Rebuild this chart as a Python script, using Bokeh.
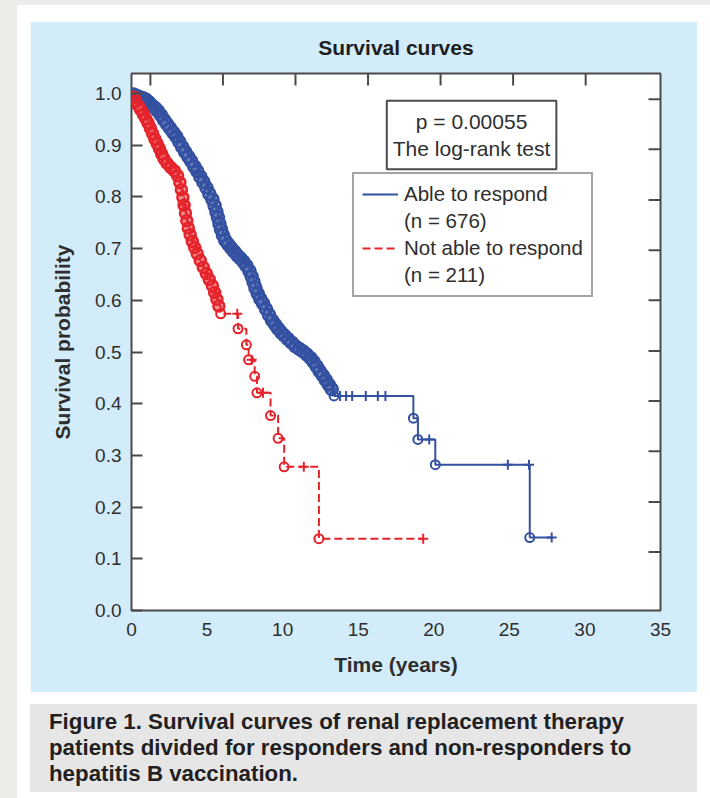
import numpy as np
from bokeh.plotting import figure
from bokeh.models import Range1d, FixedTicker, Legend, LegendItem, Label, Div
from bokeh.layouts import column
from bokeh.embed import file_html
from bokeh.resources import INLINE

# ---- Kaplan-Meier estimates (time in years, survival probability) ----
# responders ("Able to respond", n = 676): event times and survival after each event
resp_time = [0.00, 0.15, 0.35, 0.55, 0.75, 0.95, 1.15, 1.35, 1.55, 1.75, 1.95, 2.15,
             2.35, 2.55, 2.75, 2.95, 3.15, 3.35, 3.55, 3.75, 3.95, 4.15, 4.35, 4.55,
             4.75, 4.95, 5.15, 5.35, 5.50, 5.62, 5.72, 5.82, 5.92, 6.05, 6.20, 6.40,
             6.60, 6.80, 7.00, 7.20, 7.40, 7.60, 7.80, 7.95, 8.08, 8.20, 8.35, 8.52,
             8.70, 8.90, 9.10, 9.30, 9.50, 9.70, 9.90, 10.10, 10.35, 10.60, 10.85,
             11.10, 11.35, 11.60, 11.85, 12.05, 12.25, 12.45, 12.65, 12.85, 13.05,
             13.25, 13.40, 18.65, 18.95, 20.10, 26.35]
resp_surv = [1.000, 0.998, 0.995, 0.993, 0.991, 0.988, 0.983, 0.977, 0.972, 0.966,
             0.958, 0.949, 0.941, 0.933, 0.925, 0.917, 0.907, 0.897, 0.887, 0.878,
             0.869, 0.859, 0.850, 0.839, 0.829, 0.818, 0.806, 0.795, 0.783, 0.771,
             0.760, 0.748, 0.737, 0.726, 0.716, 0.708, 0.701, 0.694, 0.687, 0.681,
             0.675, 0.667, 0.657, 0.646, 0.635, 0.624, 0.613, 0.603, 0.594, 0.583,
             0.572, 0.561, 0.553, 0.545, 0.538, 0.532, 0.525, 0.518, 0.511, 0.506,
             0.501, 0.495, 0.488, 0.481, 0.472, 0.463, 0.455, 0.446, 0.437, 0.428,
             0.415, 0.372, 0.331, 0.282, 0.141]
# censored observations of responders
resp_censor = [1.0, 2.0, 3.0, 4.4, 5.1, 6.6, 7.5, 8.4, 9.6, 10.5, 11.2, 11.9, 12.4,
               12.9, 13.3, 13.8, 14.2, 14.6, 15.5, 16.3, 16.8, 19.7, 24.9, 26.3, 27.8]

# non-responders ("Not able to respond", n = 211)
nonresp_time = [0.00, 0.15, 0.30, 0.45, 0.60, 0.78, 0.95, 1.10, 1.25, 1.40, 1.55,
                1.70, 1.85, 2.00, 2.15, 2.35, 2.60, 2.85, 3.05, 3.20, 3.30, 3.40,
                3.48, 3.57, 3.66, 3.76, 3.88, 4.02, 4.18, 4.35, 4.55, 4.75, 4.95,
                5.15, 5.35, 5.50, 5.65, 5.78, 5.90, 7.05, 7.60, 7.75, 8.15, 8.30,
                9.20, 9.70, 10.10, 12.40]
nonresp_surv = [1.000, 0.993, 0.985, 0.977, 0.969, 0.960, 0.951, 0.943, 0.933,
                0.922, 0.912, 0.903, 0.893, 0.883, 0.874, 0.865, 0.857, 0.850,
                0.841, 0.828, 0.814, 0.799, 0.784, 0.769, 0.754, 0.740, 0.727,
                0.714, 0.702, 0.690, 0.677, 0.664, 0.652, 0.640, 0.628, 0.615,
                0.602, 0.589, 0.574, 0.545, 0.514, 0.485, 0.453, 0.421, 0.377,
                0.333, 0.278, 0.139]
nonresp_censor = [0.9, 1.9, 2.6, 3.5, 4.3, 5.0, 5.6, 7.0, 7.95, 8.7, 11.4, 19.3]

# ---- axis ticks ----
x_ticks = [0, 5, 10, 15, 20, 25, 30, 35]
y_ticks = [0.0, 0.1, 0.2, 0.3, 0.4, 0.5, 0.6, 0.7, 0.8, 0.9, 1.0]
y_tick_labels = ["0.0", "0.1", "0.2", "0.3", "0.4", "0.5", "0.6", "0.7", "0.8", "0.9", "1.0"]
top_ticks = [1.25, 6.05, 10.85, 15.65, 20.45, 25.25, 30.05]
right_ticks = [0.113, 0.210, 0.308, 0.405, 0.502, 0.600, 0.697, 0.794, 0.892, 0.989]

X_MAX, Y_MAX = 35, 1.0387
BLUE = "#3350a1"
RED = "#e5232b"
FRAME = "#4a4a4a"
TEXT = "#2e2e2e"
FONT = "Liberation Sans"
# below these times the events are so frequent that the marks merge into a band
RESP_DENSE_END = 13.3
NONRESP_DENSE_END = 5.85


def km_line(times, surv, censor):
    """Step line extended to the last censored time, plus censor-mark heights."""
    t = np.asarray(times)
    s = np.asarray(surv)
    lx = list(t) + [max(censor)]
    ly = list(s) + [s[-1]]
    idx = np.searchsorted(t, np.asarray(censor), side="right") - 1
    return lx, ly, list(s[idx])


def split_events(times, surv, dense_end):
    t = np.asarray(times[1:])
    s = np.asarray(surv[1:])
    d = t < dense_end
    return (list(t[d]), list(s[d])), (list(t[~d]), list(s[~d]))


p = figure(width=667, height=671, output_backend="svg", toolbar_location=None,
           x_range=Range1d(0, X_MAX), y_range=Range1d(0, Y_MAX),
           min_border_left=101, min_border_right=37, min_border_top=52,
           min_border_bottom=82, border_fill_color="#d3ecf9",
           background_fill_color="white", title="Survival curves")
p.grid.visible = False
p.outline_line_color = FRAME
p.outline_line_width = 2

p.title.align = "center"
p.title.vertical_align = "top"
p.title.text_font = FONT
p.title.text_font_size = "21px"
p.title.text_font_style = "bold"
p.title.text_color = "#1e1e1e"
p.title.standoff = 26

# left axis
ya = p.yaxis[0]
ya.ticker = FixedTicker(ticks=y_ticks)
ya.major_label_overrides = {v: s for v, s in zip(y_ticks, y_tick_labels)}
ya.major_tick_in = 11
ya.major_tick_out = 0
ya.major_tick_line_color = FRAME
ya.major_tick_line_width = 2
ya.minor_tick_line_color = None
ya.axis_line_color = None
ya.major_label_standoff = 10
ya.major_label_text_font = FONT
ya.major_label_text_font_size = "19px"
ya.major_label_text_color = TEXT
ya.axis_label = "Survival probability"
ya.axis_label_text_font = FONT
ya.axis_label_text_font_size = "21px"
ya.axis_label_text_font_style = "bold"
ya.axis_label_text_color = TEXT
ya.axis_label_standoff = 18

# bottom axis
xa = p.xaxis[0]
xa.ticker = FixedTicker(ticks=x_ticks)
xa.major_tick_in = 0
xa.major_tick_out = 0
xa.minor_tick_line_color = None
xa.axis_line_color = None
xa.major_label_standoff = 12
xa.major_label_text_font = FONT
xa.major_label_text_font_size = "19px"
xa.major_label_text_color = TEXT
xa.axis_label = "Time (years)"
xa.axis_label_text_font = FONT
xa.axis_label_text_font_size = "21px"
xa.axis_label_text_font_style = "bold"
xa.axis_label_text_color = TEXT
xa.axis_label_standoff = 14

# unlabeled inward ticks along the top and right edges (half of each dash is clipped)
p.scatter(top_ticks, [Y_MAX] * len(top_ticks), marker="dash", angle=np.pi / 2,
          size=24, line_color=FRAME, line_width=2)
p.scatter([X_MAX] * len(right_ticks), right_ticks, marker="dash", size=24,
          line_color=FRAME, line_width=2)

# survival curves
rx, ry, rcy = km_line(resp_time, resp_surv, resp_censor)
nx, ny, ncy = km_line(nonresp_time, nonresp_surv, nonresp_censor)

blue_line = p.step(rx, ry, mode="after", line_color=BLUE, line_width=2)
red_line = p.step(nx, ny, mode="after", line_color=RED, line_width=2, line_dash="8 4")

for times, surv, dense_end, col, sz in ((resp_time, resp_surv, RESP_DENSE_END, BLUE, 12),
                                         (nonresp_time, nonresp_surv, NONRESP_DENSE_END, RED, 11)):
    (dt, ds), (st, ss) = split_events(times, surv, dense_end)
    p.scatter(dt, ds, marker="circle", size=sz, fill_color=col, fill_alpha=0.5,
              line_color=col, line_width=2.5)
    p.scatter(st, ss, marker="circle", size=9, fill_color=None, line_color=col,
              line_width=2)

p.scatter(resp_censor, rcy, marker="cross", size=10, line_color=BLUE, line_width=2)
p.scatter(nonresp_censor, ncy, marker="cross", size=10, line_color=RED, line_width=2)

# log-rank test box
p.add_layout(Label(x=22.5, y=0.9197, text="p = 0.00055\nThe log-rank test",
                   text_align="center", text_baseline="middle", text_font=FONT,
                   text_font_size="21px", text_color=TEXT, text_line_height=1.2,
                   background_fill_color="white", border_line_color=FRAME,
                   border_line_width=2, padding=(6, 9)))

# legend: each group name followed by its size on a second row
spacer = p.line(x=[], y=[], line_alpha=0)
legend = Legend(items=[LegendItem(label="Able to respond", renderers=[blue_line]),
                       LegendItem(label="(n = 676)", renderers=[spacer]),
                       LegendItem(label="Not able to respond", renderers=[red_line]),
                       LegendItem(label="(n = 211)", renderers=[spacer])],
                location=(221, 313), orientation="vertical",
                label_text_font=FONT, label_text_font_size="20.5px",
                label_text_color=TEXT, label_height=20, glyph_height=20,
                glyph_width=36, label_standoff=6, spacing=3, padding=8, margin=0,
                border_line_color=FRAME, border_line_width=2,
                background_fill_color="white", background_fill_alpha=1)
p.add_layout(legend, "center")

p.margin = (16, 0, 0, 13)

caption = Div(
    text=('<div style="padding:5px 0 0 19px; font-family:\'Liberation Sans\'; font-weight:700; '
          'font-size:22.3px; line-height:26px; color:#231f20; white-space:nowrap;">'
          'Figure 1. Survival curves of renal replacement therapy<br>'
          'patients divided for responders and non-responders to<br>'
          'hepatitis B vaccination.</div>'),
    width=667, height=88, margin=(12, 0, 0, 13),
    styles={"background-color": "#e6e6e6"})

card = column(p, caption, width=693, height=793, margin=(5, 0, 0, 17), spacing=0,
              styles={"background-color": "#ffffff"})
root = column(card, width=710, height=798, styles={"background-color": "#ecebe8"})

open("out.html", "w").write(file_html(root, INLINE))
